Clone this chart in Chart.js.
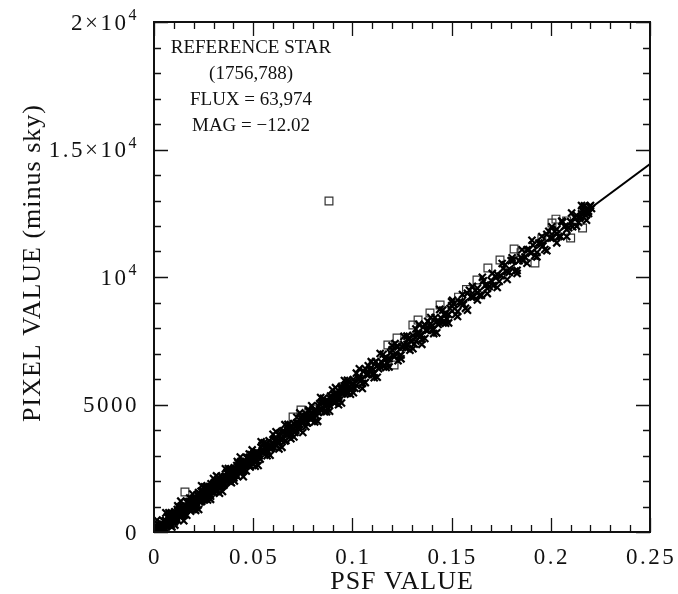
<!DOCTYPE html>
<html><head><meta charset="utf-8">
<script src="https://cdn.jsdelivr.net/npm/chart.js@4.4.1/dist/chart.umd.min.js"></script>
<style>html,body{margin:0;padding:0;background:#fff}canvas{display:block}</style>
</head><body>
<canvas id="c" width="678" height="594"></canvas>
<script>
// ---- data (PSF value vs pixel value minus sky) ----
const psfA = [0.0005,0.001,0.0015,0.002,0.0025,0.003,0.0035,0.004,0.0045,0.005,
0.0055,0.006,0.0065,0.007,0.0075,0.008,0.0085,0.009,0.0095,0.01,
0.0105,0.011,0.0115,0.012,0.0125,0.013,0.0135,0.014,0.0145,0.015,
0.0155,0.016,0.0165,0.017,0.0175,0.018,0.0185,0.019,0.0195,0.02,
0.0205,0.021,0.0215,0.022,0.0225,0.023,0.0235,0.024,0.0245,0.025,
0.0255,0.026,0.0265,0.027,0.0275,0.028,0.0285,0.029,0.0295,0.03,
0.0305,0.031,0.0315,0.032,0.0325,0.033,0.0335,0.034,0.0345,0.035,
0.0355,0.036,0.0365,0.037,0.0375,0.038,0.0385,0.039,0.0395,0.04,
0.0405,0.041,0.0415,0.042,0.0425,0.043,0.0435,0.044,0.0445,0.045,
0.0455,0.046,0.0465,0.047,0.0475,0.048,0.0485,0.049,0.0495,0.05];
const pixA = [120,10,120,20,260,140,260,130,280,240,
150,440,340,610,310,620,240,590,540,720,
790,500,720,460,970,690,900,620,870,770,
720,1010,910,1190,890,1200,820,1170,1120,1300,
1360,1070,1300,1040,1550,1270,1480,1200,1440,1340,
1300,1590,1490,1770,1470,1780,1400,1740,1690,1870,
1940,1650,1880,1620,2130,1850,2050,1770,2020,1920,
1880,2170,2070,2350,2050,2350,1970,2320,2270,2450,
2520,2230,2460,2190,2700,2420,2630,2350,2600,2500,
2460,2750,2640,2920,2620,2930,2550,2900,2850,3030];

const psfA2 = [0.00025,0.00075,0.00125,0.00175,0.00225,0.00275,0.00325,0.00375,0.00425,0.00475,
0.00525,0.00575,0.00625,0.00675,0.00725,0.00775,0.00825,0.00875,0.00925,0.00975,
0.01025,0.01075,0.01125,0.01175,0.01225,0.01275,0.01325,0.01375,0.01425,0.01475,
0.01525,0.01575,0.01625,0.01675,0.01725,0.01775,0.01825,0.01875,0.01925,0.01975,
0.02025,0.02075,0.02125,0.02175,0.02225,0.02275,0.02325,0.02375,0.02425,0.02475,
0.02525,0.02575,0.02625,0.02675,0.02725,0.02775,0.02825,0.02875,0.02925,0.02975,
0.03025,0.03075,0.03125,0.03175,0.03225,0.03275,0.03325,0.03375,0.03425,0.03475,
0.03525,0.03575,0.03625,0.03675,0.03725,0.03775,0.03825,0.03875,0.03925,0.03975,
0.04025,0.04075,0.04125,0.04175,0.04225,0.04275,0.04325,0.04375,0.04425,0.04475,
0.04525,0.04575,0.04625,0.04675,0.04725,0.04775,0.04825,0.04875,0.04925,0.04975];
const pixA2 = [70,100,30,200,120,210,110,330,180,290,
100,450,280,590,400,550,320,740,400,600,
390,740,570,880,690,840,600,1020,690,890,
680,1030,860,1170,980,1120,890,1310,980,1180,
970,1320,1150,1460,1260,1410,1180,1600,1270,1470,
1260,1610,1440,1740,1550,1700,1470,1890,1560,1760,
1550,1900,1720,2030,1840,1990,1760,2180,1850,2050,
1840,2180,2010,2320,2130,2280,2050,2470,2140,2330,
2120,2470,2300,2610,2420,2570,2340,2760,2420,2620,
2410,2760,2590,2900,2710,2860,2630,3040,2710,2910];

const psfB1 = [0.0505,0.0515,0.0525,0.0535,0.0545,0.0555,0.0565,0.0575,0.0585,0.0595,
0.0605,0.0615,0.0625,0.0635,0.0645,0.0655,0.0665,0.0675,0.0685,0.0695,
0.0705,0.0715,0.0725,0.0735,0.0745,0.0755,0.0765,0.0775,0.0785,0.0795,
0.0805,0.0815,0.0825,0.0835,0.0845,0.0855,0.0865,0.0875,0.0885,0.0895,
0.0905,0.0915,0.0925,0.0935,0.0945,0.0955,0.0965,0.0975,0.0985,0.0995];
const pixB1 = [3100,2830,3090,2860,3400,3140,3380,3130,3410,3330,
3320,3640,3570,3880,3600,3940,3590,3970,3940,4150,
4250,3990,4250,4010,4550,4300,4540,4280,4560,4490,
4480,4790,4720,5030,4760,5100,4740,5120,5100,5310,
5400,5140,5400,5170,5700,5450,5690,5440,5720,5640];

const psfB2 = [0.051,0.052,0.053,0.054,0.055,0.056,0.057,0.058,0.059,0.06,
0.061,0.062,0.063,0.064,0.065,0.066,0.067,0.068,0.069,0.07,
0.071,0.072,0.073,0.074,0.075,0.076,0.077,0.078,0.079,0.08,
0.081,0.082,0.083,0.084,0.085,0.086,0.087,0.088,0.089,0.09,
0.091,0.092,0.093,0.094,0.095,0.096,0.097,0.098,0.099,0.1];
const pixB2 = [2740,3120,2980,3320,3160,3330,3130,3580,3280,3500,
3610,3400,3790,3630,3970,3570,3880,3840,4170,4010,
3900,4280,4130,4470,4310,4490,4280,4730,4430,4660,
4770,4550,4940,4790,5130,4720,5030,4990,5330,5160,
5050,5430,5290,5630,5460,5640,5440,5890,5580,5810];

const psfC1 = [0.1005,0.102,0.1035,0.105,0.1065,0.108,0.1095,0.111,0.1125,0.114,
0.1155,0.117,0.1185,0.12,0.1215,0.123,0.1245,0.126,0.1275,0.129,
0.1305,0.132,0.1335,0.135,0.1365,0.138,0.1395,0.141,0.1425,0.144,
0.1455,0.147,0.1485,0.15];
const pixC1 = [5980,5750,6040,5830,6400,6170,6440,6220,6520,6480,
6500,6840,6800,7140,6890,7260,6940,7340,7350,7590,
7710,7480,7770,7560,8130,7910,8170,7950,8260,8210,
8230,8580,8530,8870];

const psfC2 = [0.1012,0.1027,0.1042,0.1057,0.1072,0.1087,0.1102,0.1117,0.1132,0.1147,
0.1162,0.1177,0.1192,0.1207,0.1222,0.1237,0.1252,0.1267,0.1282,0.1297,
0.1312,0.1327,0.1342,0.1357,0.1372,0.1387,0.1402,0.1417,0.1432,0.1447,
0.1462,0.1477,0.1492];
const pixC2 = [5640,6050,5940,6300,6170,6380,6200,6680,6400,6660,
6800,6610,7030,6910,7270,6900,7240,7220,7590,7460,
7370,7780,7670,8030,7900,8110,7930,8410,8140,8390,
8530,8350,8760];

const psfD1 = [0.151,0.153,0.155,0.157,0.159,0.161,0.163,0.165,0.167,0.169,
0.171,0.173,0.175,0.177,0.179,0.181,0.183,0.185,0.187,0.189,
0.191,0.193,0.195,0.197,0.199,0.201,0.203,0.205,0.207,0.209,
0.211,0.213,0.215,0.217,0.219];
const pixD1 = [8940,8650,9030,8770,9480,9220,9560,9280,9680,9630,
9660,10100,10050,10480,10180,10650,10260,10770,10780,11080,
11250,10960,11340,11080,11790,11530,11870,11590,11990,11930,
11970,12410,12360,12790,12490];

const psfD2 = [0.152,0.154,0.156,0.158,0.16,0.162,0.164,0.166,0.168,0.17,
0.172,0.174,0.176,0.178,0.18,0.182,0.184,0.186,0.188,0.19,
0.192,0.194,0.196,0.198,0.2,0.202,0.204,0.206,0.208,0.21,
0.212,0.214,0.216,0.218,0.22];
const pixD2 = [8530,9020,8920,9360,9210,9470,9280,9850,9550,9860,
10030,9830,10330,10210,10640,10230,10640,10640,11070,10930,
10840,11330,11220,11670,11520,11780,11590,12160,11860,12170,
12340,12140,12640,12510,12800];

const psfE = [0.2165,0.2185,0.2175,0.2195,0.2155,0.2205,0.2145,0.219];
const pixE = [12550,12700,12420,12760,12480,12690,12300,12580];

// outer edges of the band
const psfF = [0.0015,0.0045,0.0075,0.0105,0.0135,0.0165,0.0195,0.0225,0.0255,0.0285,
0.0315,0.0345,0.0375,0.0405,0.0435,0.0465,0.0495,0.0525,0.0555,0.0585,
0.0615,0.0645,0.0675,0.0705,0.0735,0.0765,0.0795,0.0825,0.0855,0.0885,
0.0915,0.0945,0.0975,0.1005,0.1035,0.1065,0.1095,0.1125,0.1155,0.1185,
0.1215,0.1245,0.1275,0.1305,0.1335,0.1365,0.1395,0.1425,0.1455,0.1485];
const pixF = [470,40,750,270,1210,660,1490,880,1770,1280,
2200,1590,2490,2000,2940,2390,3220,2610,3500,3010,
3930,3320,4220,3730,4670,4130,4950,4340,5240,4740,
5660,5060,5950,5460,6400,5860,6680,6070,6970,6470,
7390,6790,7680,7190,8140,7590,8410,7810,8700,8200];

const psfG = [0.003,0.006,0.009,0.012,0.015,0.018,0.021,0.024,0.027,0.03,
0.033,0.036,0.039,0.042,0.045,0.048,0.051,0.054,0.057,0.06,
0.063,0.066,0.069,0.072,0.075,0.078,0.081,0.084,0.087,0.09,
0.093,0.096,0.099,0.102,0.105,0.108,0.111,0.114,0.117,0.12,
0.123,0.126,0.129,0.132,0.135,0.138,0.141,0.144,0.147,0.15];
const pixG = [30,750,200,1030,440,1330,850,1810,1260,2100,
1520,2480,1930,2760,2170,3060,2580,3540,2990,3830,
3260,4210,3660,4500,3900,4790,4320,5270,4720,5570,
4990,5940,5400,6230,5630,6520,6050,7000,6450,7300,
6720,7670,7130,7960,7360,8260,7780,8730,8190,9030];

const psfH = [0.0008,0.0028,0.0048,0.0068,0.0088,0.0108,0.0128,0.0148,0.0168,0.0188,
0.0208,0.0228,0.0248,0.0268,0.0288,0.0308,0.0328,0.0348,0.0368,0.0388,
0.0408,0.0428,0.0448,0.0468,0.0488,0.0508,0.0528,0.0548,0.0568,0.0588,
0.0608,0.0628,0.0648,0.0668,0.0688,0.0708,0.0728,0.0748,0.0768,0.0788,
0.0808,0.0828,0.0848,0.0868,0.0888,0.0908,0.0928,0.0948,0.0968,0.0988];
const pixH = [110,70,430,370,620,460,770,790,1160,960,
1260,1230,1580,1530,1770,1620,1920,1950,2310,2110,
2420,2380,2740,2680,2930,2770,3080,3100,3470,3260,
3570,3540,3890,3840,4080,3930,4230,4260,4620,4420,
4720,4690,5050,4990,5240,5080,5390,5410,5780,5570];

const psfI = [0.1505,0.153,0.1555,0.158,0.1605,0.163,0.1655,0.168,0.1705,0.173,
0.1755,0.178,0.1805,0.183,0.1855,0.188,0.1905,0.193,0.1955,0.198,
0.2005,0.203,0.2055,0.208,0.2105,0.213,0.2155,0.218];
const pixI = [9090,8450,9310,8700,9630,9100,9990,9350,10140,9590,
10530,9900,10750,10140,11070,10540,11440,10790,11590,11030,
11970,11340,12190,11590,12510,11990,12800,12230];

// open squares (flagged pixels)
const boxPsf = [0.0882,0.0156,0.0701,0.0741,0.0805,0.0855,0.0955,0.1045,0.1105,0.1179,
0.1210,0.1225,0.1305,0.1331,0.1391,0.1442,0.1535,0.1575,0.1628,0.1683,
0.1744,0.1815,0.1850,0.1920,0.1955,0.2006,0.2026,0.2080,0.2100,0.2160];
const boxPix = [12980,1570,4510,4780,4820,5050,5700,6200,6600,7330,
6550,7610,8120,8310,8590,8900,9210,9510,9880,10350,
10670,11100,10950,10550,11500,12120,12270,12200,11530,11920];

// fitted line
const fitPsf = [0, 0.25];
const fitPixel = [0, 14430];

// axes
const xTickVals = [0, 0.05, 0.1, 0.15, 0.2, 0.25];
const xTickLabels = ['0', '0.05', '0.1', '0.15', '0.2', '0.25'];
const yTickVals = [0, 5000, 10000, 15000, 20000];
const yTickBase = ['0', '5000', '10', '1.5\u00d710', '2\u00d710'];
const yTickExp = ['', '', '4', '4', '4'];
const xTitle = 'PSF VALUE';
const yTitle = 'PIXEL VALUE (minus sky)';
const noteLines = ['REFERENCE STAR', '(1756,788)', 'FLUX = 63,974', 'MAG = \u221212.02'];

// ---- chart ----
function pts(xs, ys) { return xs.map((v, i) => ({ x: v, y: ys[i] })); }
const crossData = [].concat(
  pts(psfA, pixA), pts(psfA2, pixA2), pts(psfB1, pixB1), pts(psfB2, pixB2),
  pts(psfC1, pixC1), pts(psfC2, pixC2), pts(psfD1, pixD1), pts(psfD2, pixD2),
  pts(psfE, pixE), pts(psfF, pixF), pts(psfG, pixG), pts(psfH, pixH), pts(psfI, pixI));
const boxData = pts(boxPsf, boxPix);
const SERIF = '"Liberation Serif","Times New Roman",serif';
const INK = '#111';

function spaced(ctx, px) { if ('letterSpacing' in ctx) ctx.letterSpacing = px + 'px'; }

const decor = {
  id: 'decor',
  afterDatasetsDraw(chart) {
    const { ctx, chartArea: a, scales: { x, y } } = chart;
    ctx.save();
    // frame
    ctx.strokeStyle = INK;
    ctx.lineWidth = 2;
    ctx.strokeRect(a.left, a.top, a.right - a.left, a.bottom - a.top);
    // ticks (inside, all four sides)
    ctx.lineWidth = 1.3;
    ctx.beginPath();
    for (let i = 0; i <= 25; i++) {
      const px = Math.round(x.getPixelForValue(i * 0.01)) + 0.5;
      const len = (i % 5 === 0) ? 14 : 7;
      ctx.moveTo(px, a.bottom); ctx.lineTo(px, a.bottom - len);
      ctx.moveTo(px, a.top); ctx.lineTo(px, a.top + len);
    }
    for (let i = 0; i <= 20; i++) {
      const py = Math.round(y.getPixelForValue(i * 1000)) + 0.5;
      const len = (i % 5 === 0) ? 14 : 7;
      ctx.moveTo(a.left, py); ctx.lineTo(a.left + len, py);
      ctx.moveTo(a.right, py); ctx.lineTo(a.right - len, py);
    }
    ctx.stroke();

    ctx.fillStyle = INK;
    ctx.textBaseline = 'alphabetic';
    // x tick labels
    spaced(ctx, 2.5);
    ctx.font = '23px ' + SERIF;
    ctx.textAlign = 'center';
    xTickVals.forEach((v, i) => {
      ctx.fillText(xTickLabels[i], x.getPixelForValue(v) + 1, 564);
    });
    // y tick labels with superscripts
    const right = 139;
    yTickVals.forEach((v, i) => {
      const py = y.getPixelForValue(v);
      ctx.font = '23px ' + SERIF;
      const bw = ctx.measureText(yTickBase[i]).width;
      ctx.font = '16px ' + SERIF;
      const ew = yTickExp[i] ? ctx.measureText(yTickExp[i]).width : 0;
      ctx.textAlign = 'left';
      ctx.font = '23px ' + SERIF;
      ctx.fillText(yTickBase[i], right - ew - bw, py + 7.5);
      if (ew) {
        ctx.font = '16px ' + SERIF;
        ctx.fillText(yTickExp[i], right - ew, py - 2);
      }
    });
    // axis titles
    spaced(ctx, 1);
    ctx.font = '26px ' + SERIF;
    ctx.textAlign = 'center';
    ctx.fillText(xTitle, (a.left + a.right) / 2, 589);
    ctx.save();
    ctx.translate(40, (a.top + a.bottom) / 2 - 14);
    ctx.rotate(-Math.PI / 2);
    ctx.fillText(yTitle, 0, 0);
    ctx.restore();
    // annotation
    spaced(ctx, 0);
    ctx.font = '19px ' + SERIF;
    const baselines = [53, 79, 105, 131];
    noteLines.forEach((t, i) => ctx.fillText(t, 251, baselines[i]));
    ctx.restore();
  }
};

new Chart(document.getElementById('c'), {
  type: 'scatter',
  data: {
    datasets: [
      { type: 'line', data: pts(fitPsf, fitPixel), borderColor: '#000', borderWidth: 2,
        pointRadius: 0, fill: false, showLine: true },
      { data: crossData, pointStyle: 'crossRot', pointRadius: 5, borderWidth: 2.2,
        borderColor: '#000', backgroundColor: '#000' },
      { data: boxData, pointStyle: 'rect', pointRadius: 5.5, borderWidth: 1.2,
        borderColor: '#333', backgroundColor: 'rgba(255,255,255,0)' }
    ]
  },
  options: {
    responsive: false,
    animation: false,
    devicePixelRatio: 1,
    events: [],
    layout: { padding: { left: 154, right: 28, top: 22, bottom: 62 } },
    plugins: { legend: { display: false }, tooltip: { enabled: false } },
    scales: {
      x: { type: 'linear', min: 0, max: 0.25, display: false },
      y: { type: 'linear', min: 0, max: 20000, display: false }
    }
  },
  plugins: [decor]
});
</script>
</body></html>
